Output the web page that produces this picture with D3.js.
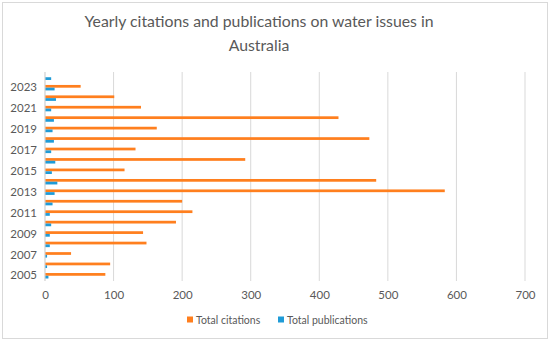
<!DOCTYPE html>
<html>
<head>
<meta charset="utf-8">
<script src="https://cdn.jsdelivr.net/npm/d3@7"></script>
<style>
  body { margin: 0; background: #fff; }
  svg { display: block; font-family: Lato, "Open Sans", sans-serif; }
</style>
</head>
<body>
<svg id="chart" width="550" height="342"></svg>
<script>
// years, bottom (2005) to top (2024)
const years = [2005, 2006, 2007, 2008, 2009, 2010, 2011, 2012, 2013, 2014,
               2015, 2016, 2017, 2018, 2019, 2020, 2021, 2022, 2023, 2024];
const citations = [88, 95, 38, 148, 143, 191, 215, 200, 583, 483,
                   116, 292, 132, 473, 163, 428, 140, 101, 52, 0];
const publications = [5, 3, 3, 7, 7, 9, 7, 11, 14, 18,
                      10, 15, 9, 13, 11, 13, 9, 16, 14, 9];
const xTicks = [0, 100, 200, 300, 400, 500, 600, 700];
const seriesNames = ["Total citations", "Total publications"];
const colors = ["#ff7f1e", "#1f9bd7"];

const svg = d3.select("#chart");
const margin = { top: 72, right: 25, bottom: 61, left: 45 };
const width = 550 - margin.left - margin.right;
const height = 342 - margin.top - margin.bottom;

// outer frame
svg.append("rect")
    .attr("x", 2.5).attr("y", 2.5)
    .attr("width", 545).attr("height", 336)
    .attr("fill", "#fff")
    .attr("stroke", "#d9d9d9");

// title
const title = svg.append("text")
    .attr("text-anchor", "middle")
    .attr("fill", "#595959")
    .style("font-size", "15.8px");
title.append("tspan").attr("x", 259).attr("y", 27)
    .text("Yearly citations and publications on water issues in");
title.append("tspan").attr("x", 259).attr("y", 51)
    .text("Australia");

const g = svg.append("g")
    .attr("transform", `translate(${margin.left}, ${margin.top})`);

const x = d3.scaleLinear().domain([0, 700]).range([0, width]);
const y = d3.scaleBand().domain(years).range([height, 0]).paddingInner(0.477).paddingOuter(0.24);
const ySeries = d3.scaleBand().domain([0, 1]).range([0, y.bandwidth()]);

// gridlines
g.selectAll(".grid")
    .data(xTicks)
    .join("line")
    .attr("x1", d => x(d)).attr("x2", d => x(d))
    .attr("y1", 0).attr("y2", height)
    .attr("stroke", "#d9d9d9");

// x axis labels
const xAxis = g.append("g")
    .attr("transform", `translate(0, ${height})`)
    .call(d3.axisBottom(x).tickValues(xTicks).tickSize(0).tickPadding(10));
xAxis.select(".domain").remove();
xAxis.selectAll("text").attr("fill", "#595959").style("font-size", "11.5px")
    .style("font-family", "Lato, sans-serif");

// bars
const rows = years.map((yr, i) => ({ year: yr, vals: [citations[i], publications[i]] }));
const grp = g.selectAll(".row")
    .data(rows)
    .join("g")
    .attr("transform", d => `translate(0, ${y(d.year)})`);
grp.selectAll("rect")
    .data(d => d.vals)
    .join("rect")
    .attr("x", 0)
    .attr("y", (d, i) => ySeries(i))
    .attr("width", d => x(d))
    .attr("height", ySeries.bandwidth())
    .attr("fill", (d, i) => colors[i]);

// y axis (every other year labelled)
const yAxis = g.append("g")
    .call(d3.axisLeft(y).tickValues(years.filter(d => d % 2 === 1)).tickSize(0).tickPadding(8));
yAxis.select(".domain").remove();
yAxis.selectAll("text").attr("fill", "#595959").style("font-size", "11.5px")
    .style("font-family", "Lato, sans-serif");
g.append("line")
    .attr("x1", 0).attr("x2", 0).attr("y1", 0).attr("y2", height)
    .attr("stroke", "#d9d9d9");

// legend
const legend = svg.append("g").attr("transform", "translate(187, 320)");
const legendX = [0, 91];
seriesNames.forEach((name, i) => {
  const item = legend.append("g").attr("transform", `translate(${legendX[i]}, 0)`);
  item.append("rect").attr("x", 0).attr("y", -3.5).attr("width", 6).attr("height", 6).attr("fill", colors[i]);
  item.append("text").attr("x", 9).attr("y", 0).attr("dy", "0.35em")
      .attr("fill", "#595959").style("font-size", "10.5px").text(name);
});
</script>
</body>
</html>
